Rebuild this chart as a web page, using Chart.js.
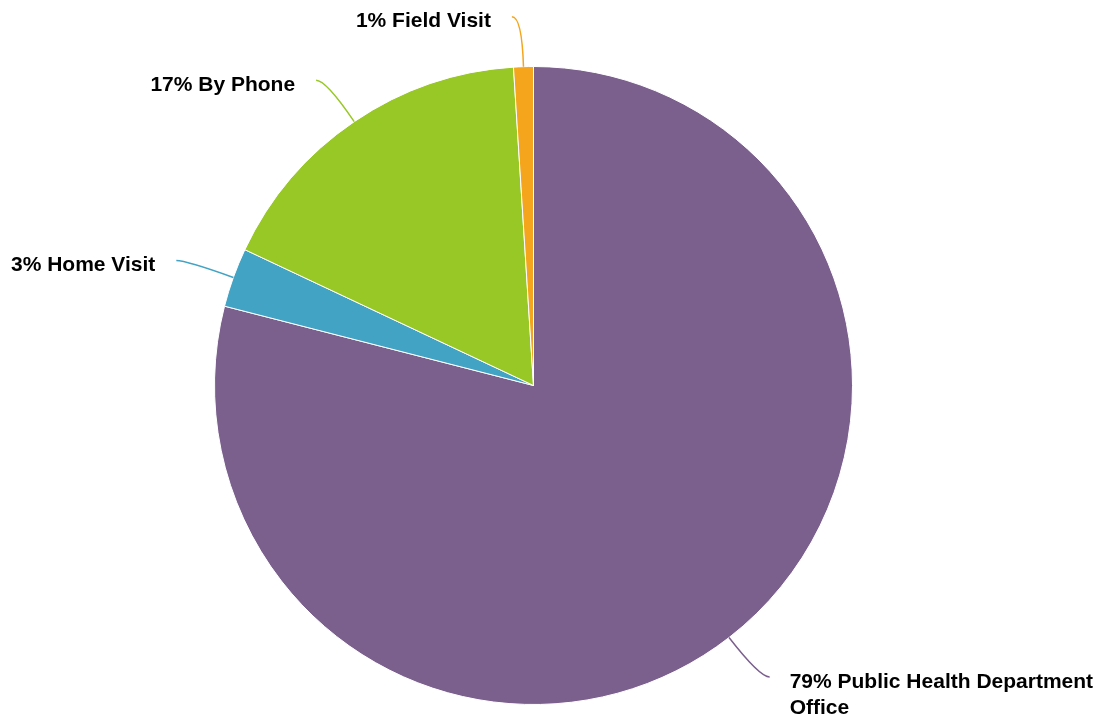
<!DOCTYPE html>
<html>
<head>
<meta charset="utf-8">
<script src="https://cdn.jsdelivr.net/npm/chart.js@4"></script>
<style>
    html, body { margin: 0; padding: 0; background: #fff; }
    #wrap { width: 1098px; height: 717px; }
</style>
</head>
<body>
<div id="wrap"><canvas id="pieChart" width="1098" height="717"></canvas></div>
<script>
const categories = ['Public Health Department Office', 'Home Visit', 'By Phone', 'Field Visit'];
const shares = [79, 3, 17, 1];
const sliceColors = ['#7b608e', '#42a3c4', '#97c825', '#f4a51c'];

// leader lines + labels drawn outside the slices
const outsideLabels = {
    id: 'outsideLabels',
    afterDraw(chart) {
        const ctx = chart.ctx;
        const meta = chart.getDatasetMeta(0);
        const total = shares.reduce((a, b) => a + b, 0);
        ctx.save();
        ctx.font = 'bold 21px "Liberation Sans", Arial, sans-serif';
        ctx.fillStyle = '#000';
        meta.data.forEach((arc, i) => {
            const mid = (arc.startAngle + arc.endAngle) / 2;
            const r = arc.outerRadius;
            const cos = Math.cos(mid);
            const sin = Math.sin(mid);
            const x0 = arc.x + cos * r;
            const y0 = arc.y + sin * r;
            const x1 = arc.x + cos * (r + 50);
            const y1 = arc.y + sin * (r + 50);
            const right = cos >= 0;
            const x2 = x1 + (right ? 10 : -10);
            const y2 = y1;

            ctx.strokeStyle = sliceColors[i];
            ctx.lineWidth = 1.5;
            ctx.beginPath();
            ctx.moveTo(x0, y0);
            ctx.quadraticCurveTo(x1, y1, x2, y2);
            ctx.stroke();

            const pct = Math.round(shares[i] / total * 100);
            const text = pct + '% ' + categories[i];
            const tx = right ? x2 + 20 : x2 - 21;
            ctx.textAlign = right ? 'left' : 'right';
            ctx.textBaseline = 'middle';
            const maxW = right ? chart.width - tx - 4 : tx - 4;
            const words = text.split(' ');
            const lines = [];
            let line = '';
            words.forEach((w) => {
                const test = line ? line + ' ' + w : w;
                if (ctx.measureText(test).width > maxW && line) {
                    lines.push(line);
                    line = w;
                } else {
                    line = test;
                }
            });
            lines.push(line);
            lines.forEach((l, k) => {
                ctx.fillText(l, tx, y2 + 5 + k * 26);
            });
        });
        ctx.restore();
    }
};

const ctx = document.getElementById('pieChart').getContext('2d');
const pieChart = new Chart(ctx, {
    type: 'pie',
    data: {
        labels: categories,
        datasets: [{
            data: shares,
            backgroundColor: sliceColors,
            borderColor: '#ffffff',
            borderWidth: 1
        }]
    },
    options: {
        responsive: false,
        animation: false,
        layout: {
            padding: { top: 66, bottom: 12, left: 214, right: 245 }
        },
        plugins: {
            legend: { display: false },
            tooltip: { enabled: false }
        }
    },
    plugins: [outsideLabels]
});
</script>
</body>
</html>
